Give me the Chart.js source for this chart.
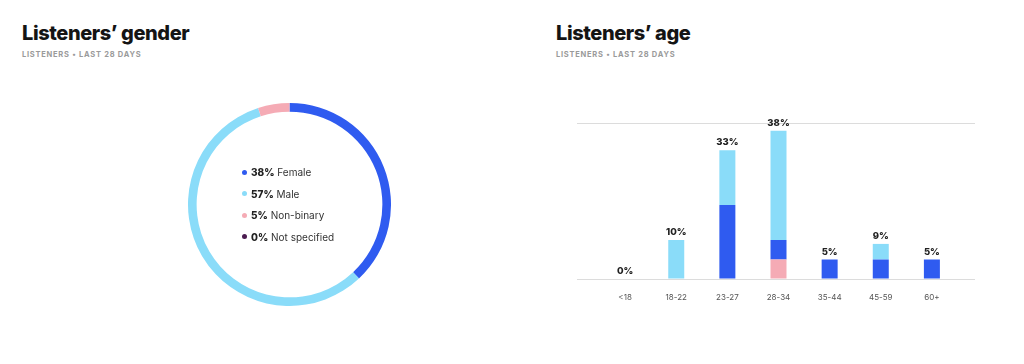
<!DOCTYPE html>
<html>
<head>
<meta charset="utf-8">
<script src="https://cdn.jsdelivr.net/npm/chart.js@4.4.0/dist/chart.umd.min.js"></script>
<style>
  html, body { margin:0; padding:0; background:#fff; width:1024px; height:364px; overflow:hidden; font-family: Inter, "Noto Sans", sans-serif; }
  .title { position:absolute; font-weight:800; font-size:20px; color:#141414; letter-spacing:-0.4px; line-height:1; }
  .sub { position:absolute; font-weight:700; font-size:7.5px; color:#9a9a9a; letter-spacing:0.75px; line-height:1; }
  #legend { position:absolute; left:242px; top:162px; font-size:10px; color:#333; }
  #legend .row { height:21.5px; line-height:21.5px; white-space:nowrap; }
  #legend .dot { display:inline-block; width:5px; height:5px; border-radius:50%; margin-right:4px; vertical-align:middle; position:relative; top:-1px; }
  #legend b { font-weight:800; color:#222; }
  canvas { position:absolute; }
</style>
</head>
<body>
<div class="title" style="left:22px; top:23px;">Listeners’ gender</div>
<div class="sub" style="left:22px; top:51px;">LISTENERS • LAST 28 DAYS</div>
<div class="title" style="left:556px; top:23px;">Listeners’ age</div>
<div class="sub" style="left:556px; top:51px;">LISTENERS • LAST 28 DAYS</div>

<canvas id="donut" style="left:188px; top:103px; width:203px; height:203px;"></canvas>
<div id="legend"></div>
<canvas id="bars" style="left:512px; top:100px; width:512px; height:230px;"></canvas>

<script>
// ---- Gender data ----
const genderLabels = ['Female', 'Male', 'Non-binary', 'Not specified'];
const genderValues = [38, 57, 5, 0];
const genderColors = ['#2f5bf0', '#8adcf9', '#f5abb5', '#4b1c50'];

// ---- Age data ----
const ageLabels = ['<18', '18-22', '23-27', '28-34', '35-44', '45-59', '60+'];
const ageNonBinary = [0, 0, 0, 5, 0, 0, 0];
const ageFemale    = [0, 0, 19, 5, 5, 5, 5];
const ageMale      = [0, 10, 14, 28, 0, 4, 0];
const ageTotals    = [0, 10, 33, 38, 5, 9, 5];

// Legend
const leg = document.getElementById('legend');
genderLabels.forEach((l, i) => {
  const r = document.createElement('div');
  r.className = 'row';
  r.innerHTML = '<span class="dot" style="background:' + genderColors[i] + '"></span><b>' + genderValues[i] + '%</b> ' + l;
  leg.appendChild(r);
});

new Chart(document.getElementById('donut'), {
  type: 'doughnut',
  data: {
    labels: genderLabels,
    datasets: [{ data: genderValues, backgroundColor: genderColors, borderWidth: 0 }]
  },
  options: {
    responsive: false,
    animation: false,
    cutout: '91.5%',
    layout: { padding: 0 },
    plugins: { legend: { display: false }, tooltip: { enabled: false } }
  }
});

const totalsPlugin = {
  id: 'totals',
  afterDatasetsDraw(chart) {
    const { ctx, scales } = chart;
    ctx.save();
    ctx.font = '800 9.5px Inter, "Noto Sans", sans-serif';
    ctx.fillStyle = '#222';
    ctx.textAlign = 'center';
    ctx.textBaseline = 'bottom';
    ageTotals.forEach((t, i) => {
      const x = scales.x.getPixelForValue(i);
      const y = scales.y.getPixelForValue(t) - 3;
      ctx.fillText(t + '%', x, y);
    });
    ctx.restore();
  }
};

const toXY = arr => arr.map((v, i) => ({ x: i, y: v }));
const barStyle = { barThickness: 16, borderWidth: 0, inflateAmount: 0 };

new Chart(document.getElementById('bars'), {
  type: 'bar',
  data: {
    datasets: [
      Object.assign({ label: 'Non-binary', data: toXY(ageNonBinary), backgroundColor: genderColors[2] }, barStyle),
      Object.assign({ label: 'Female', data: toXY(ageFemale), backgroundColor: genderColors[0] }, barStyle),
      Object.assign({ label: 'Male', data: toXY(ageMale), backgroundColor: genderColors[1] }, barStyle)
    ]
  },
  options: {
    responsive: false,
    animation: false,
    layout: { padding: { top: 23, left: 65, right: 49, bottom: 0 } },
    plugins: { legend: { display: false }, tooltip: { enabled: false } },
    scales: {
      x: {
        type: 'linear',
        stacked: true,
        offset: false,
        min: -0.941,
        max: 6.843,
        grid: { display: false, drawTicks: false },
        border: { display: false },
        afterFit(s) { s.height = 51; },
        ticks: {
          stepSize: 1,
          includeBounds: false,
          autoSkip: false,
          maxRotation: 0,
          padding: 14,
          color: '#555',
          font: { size: 8, family: 'Inter, "Noto Sans", sans-serif' },
          callback: v => (Number.isInteger(v) && ageLabels[v] !== undefined) ? ageLabels[v] : ''
        }
      },
      y: {
        stacked: true,
        min: 0,
        max: 40,
        afterFit(s) { s.width = 0; },
        border: { display: false },
        grid: { color: '#dcdcdc', lineWidth: 1, drawTicks: false },
        ticks: { display: false, stepSize: 40 }
      }
    }
  },
  plugins: [totalsPlugin]
});
</script>
</body>
</html>
